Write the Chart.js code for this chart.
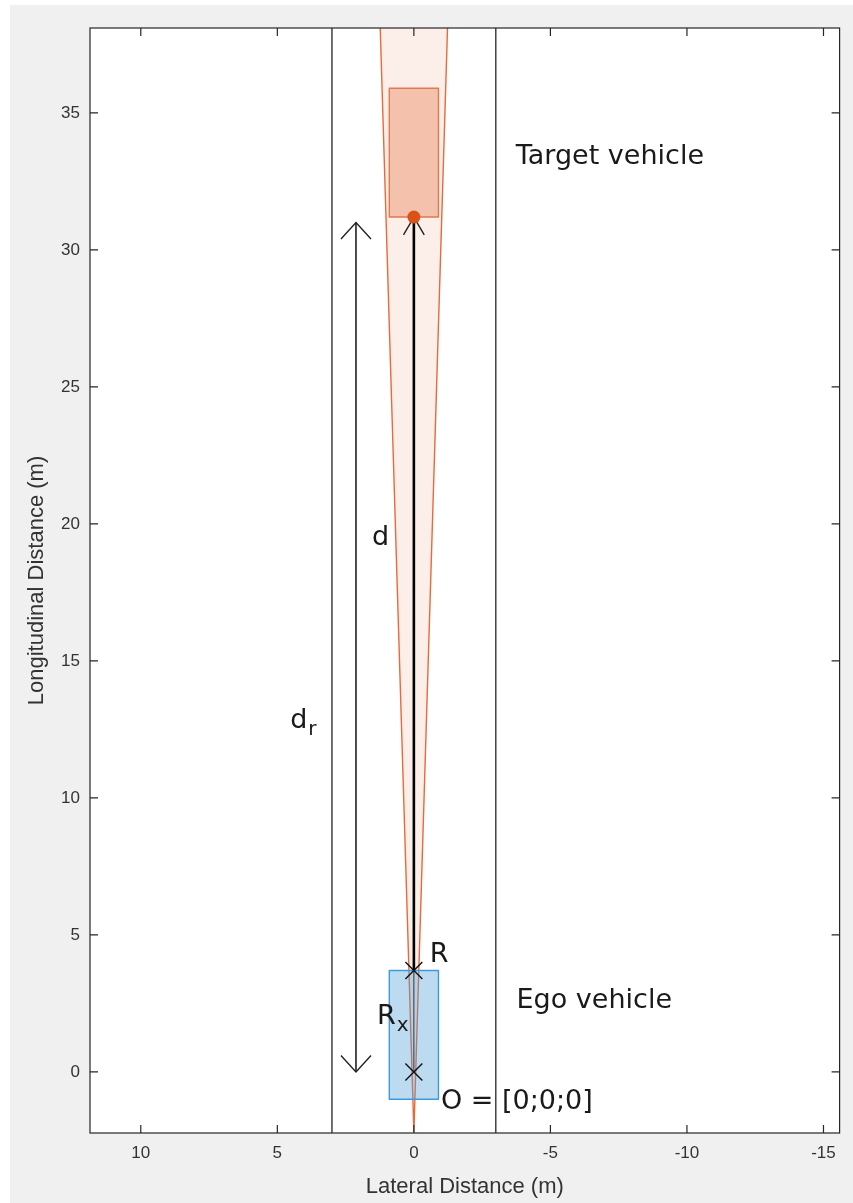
<!DOCTYPE html>
<html>
<head>
<meta charset="utf-8">
<script src="https://cdn.jsdelivr.net/npm/chart.js@4.4.1/dist/chart.umd.min.js"></script>
<style>
  html, body { margin: 0; padding: 0; background: #fff; }
  #wrap { width: 853px; height: 1203px; }
</style>
</head>
<body>
<div id="wrap"><canvas id="scene" width="853" height="1203"></canvas></div>
<script>
// tick labels
var xTicks = [10, 5, 0, -5, -10, -15];
var yTicks = [0, 5, 10, 15, 20, 25, 30, 35];

// lane markings, lateral position (m)
var laneLines = [3, -3];

// vehicle outlines, [lateral, longitudinal] (m)
var egoCar = [[0.9, -1.0], [-0.9, -1.0], [-0.9, 3.7], [0.9, 3.7], [0.9, -1.0]];
var targetCar = [[0.9, 31.2], [-0.9, 31.2], [-0.9, 35.9], [0.9, 35.9], [0.9, 31.2]];

// radar coverage area
var coverage = [[0, -2.2], [1.29, 40], [-1.29, 40], [0, -2.2]];

// detection, sensor points and distances
var detection = [[0, 31.2]];
var markers = [[0, 0], [0, 3.7]];
var rxLine = [[0, 0], [0, 3.7]];
var dShaft = [[0, 3.7], [0, 31.2]];
var dHead = [[0.38, 30.55], [0, 31.2], [-0.38, 30.55]];
var drShaft = [[2.12, 0], [2.12, 31.0]];
var drTop = [[2.67, 30.4], [2.12, 31.0], [1.57, 30.4]];
var drBottom = [[2.67, 0.6], [2.12, 0], [1.57, 0.6]];

// text annotations: text, subscript, lateral, longitudinal
var notes = [
    ['Target vehicle', '', -3.73, 33.4],
    ['Ego vehicle', '', -3.76, 2.6],
    ['d', '', 1.53, 19.5],
    ['d', 'r', 4.53, 12.8],
    ['R', '', -0.58, 4.27],
    ['R', 'x', 1.35, 2.0],
    ['O = [0;0;0]', '', -0.99, -1.1]
];

function pts(arr) {
    return arr.map(function (p) { return {x: p[0], y: p[1]}; });
}

function path(arr, color, width) {
    return {
        data: pts(arr), showLine: true, borderColor: color, borderWidth: width,
        pointRadius: 0, fill: false, tension: 0
    };
}

function shape(arr, fillColor, color) {
    return {
        data: pts(arr), showLine: true, borderColor: color, borderWidth: 1.4,
        backgroundColor: fillColor, pointRadius: 0, fill: 'shape', tension: 0,
        borderJoinStyle: 'round'
    };
}

var datasets = [
    {
        data: pts(markers), pointStyle: 'crossRot', pointRadius: 12,
        borderColor: '#111', borderWidth: 1.4, showLine: false
    },
    {
        data: pts(detection), pointRadius: 6.5, backgroundColor: '#d95319',
        borderColor: '#d95319', borderWidth: 0, showLine: false
    },
    path(dHead, '#222', 1.4),
    path(dShaft, '#000', 2.6),
    path(rxLine, '#333', 1),
    path(drTop, '#222', 1.4),
    path(drBottom, '#222', 1.4),
    path(drShaft, '#111', 1.5)
];
laneLines.forEach(function (x) {
    datasets.push(path([[x, -3], [x, 40]], '#333', 1.4));
});
datasets.push(shape(targetCar, 'rgba(233,130,90,0.42)', '#e2784c'));
datasets.push(shape(egoCar, 'rgba(80,160,215,0.38)', '#3d9ade'));
datasets.push(shape(coverage, 'rgba(236,150,120,0.16)', '#e8693a'));

var frame = {
    id: 'frame',
    beforeDraw: function (chart) {
        var c = chart.ctx, a = chart.chartArea;
        c.save();
        c.fillStyle = '#f0f0f0';
        c.fillRect(10, 5, chart.width, chart.height);
        c.fillStyle = '#fff';
        c.fillRect(a.left, a.top, a.right - a.left, a.bottom - a.top);
        c.restore();
    },
    afterDatasetsDraw: function (chart) {
        var c = chart.ctx, a = chart.chartArea;
        var sx = chart.scales.x, sy = chart.scales.y;
        c.save();
        c.strokeStyle = '#262626';
        c.lineWidth = 1.2;
        c.strokeRect(a.left, a.top, a.right - a.left, a.bottom - a.top);
        c.beginPath();
        xTicks.forEach(function (v) {
            var px = sx.getPixelForValue(v);
            c.moveTo(px, a.bottom); c.lineTo(px, a.bottom - 8);
            c.moveTo(px, a.top); c.lineTo(px, a.top + 8);
        });
        yTicks.forEach(function (v) {
            var py = sy.getPixelForValue(v);
            c.moveTo(a.left, py); c.lineTo(a.left + 8, py);
            c.moveTo(a.right, py); c.lineTo(a.right - 8, py);
        });
        c.stroke();

        c.fillStyle = '#1a1a1a';
        c.textBaseline = 'middle';
        c.textAlign = 'left';
        notes.forEach(function (n) {
            var px = sx.getPixelForValue(n[2]);
            var py = sy.getPixelForValue(n[3]);
            c.font = '27px "DejaVu Sans"';
            c.fillText(n[0], px, py);
            if (n[1]) {
                var w = c.measureText(n[0]).width;
                c.font = '20px "DejaVu Sans"';
                c.fillText(n[1], px + w + 1, py + 9);
            }
        });
        c.restore();
    }
};

var tickFont = {family: '"Liberation Sans", Arial, sans-serif', size: 17};
var titleFont = {family: '"Liberation Sans", Arial, sans-serif', size: 22};

new Chart(document.getElementById('scene').getContext('2d'), {
    type: 'scatter',
    data: {datasets: datasets},
    options: {
        responsive: false,
        animation: false,
        layout: {padding: {top: 28, right: 12, left: 0, bottom: 0}},
        plugins: {legend: {display: false}, tooltip: {enabled: false}},
        scales: {
            x: {
                type: 'linear', reverse: true, min: -15.59, max: 11.86,
                afterBuildTicks: function (s) { s.ticks = xTicks.map(function (v) { return {value: v}; }); },
                afterFit: function (s) { s.height = 70; },
                grid: {display: false, drawTicks: false},
                border: {display: false},
                ticks: {color: '#333', font: tickFont, padding: 10, maxRotation: 0},
                title: {display: true, text: 'Lateral Distance (m)', color: '#333', font: titleFont, padding: {top: 0, bottom: 3}}
            },
            y: {
                type: 'linear', min: -2.23, max: 38.1,
                afterBuildTicks: function (s) { s.ticks = yTicks.map(function (v) { return {value: v}; }); },
                afterFit: function (s) { s.width = 90; },
                grid: {display: false, drawTicks: false},
                border: {display: false},
                ticks: {color: '#333', font: tickFont, padding: 10},
                title: {display: true, text: 'Longitudinal Distance (m)', color: '#333', font: titleFont, padding: {top: 24, bottom: 0}}
            }
        }
    },
    plugins: [frame]
});
</script>
</body>
</html>
